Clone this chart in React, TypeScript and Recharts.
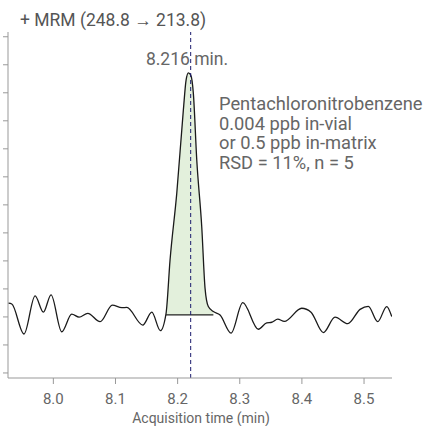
import { ComposedChart, Line, Area, XAxis, YAxis, ReferenceLine } from "recharts";

// retention time (min) and signal (arbitrary units)
const times = [
  7.9276, 7.9331, 7.9528, 7.9706, 7.9839, 7.9963, 8.0135, 8.0296, 8.0414, 8.0554,
  8.0752, 8.0949, 8.1101, 8.1181, 8.1439, 8.1584, 8.1722, 8.1814, 8.1878, 8.1986,
  8.2092, 8.2136, 8.2173, 8.2211, 8.2253, 8.2308, 8.2388, 8.2441, 8.2494, 8.2575,
  8.2683, 8.286, 8.3048, 8.3299, 8.3434, 8.3515, 8.3611, 8.3717, 8.3997, 8.4147,
  8.4345, 8.4533, 8.4738, 8.4936, 8.5069, 8.522, 8.5365, 8.5446,
];
const signal = [
  2.49, 2.46, 1.39, 2.75, 2.17, 2.79, 1.47, 2.1, 1.99, 2.13,
  1.83, 2.42, 2.33, 2.34, 1.71, 2.17, 1.51, 2.13, 4.03, 6.41,
  9.38, 10.45, 10.71, 10.63, 9.98, 7.6, 5.22, 3.03, 2.37, 2.19,
  2.07, 1.42, 2.51, 1.56, 1.79, 1.81, 1.92, 1.84, 2.31, 2.17,
  1.44, 1.99, 1.76, 2.27, 2.38, 1.83, 2.37, 2.01,
];
const xTicks = [8.0, 8.1, 8.2, 8.3, 8.4, 8.5];
const yTicks = [0, 1, 2, 3, 4, 5, 6, 7, 8, 9, 10, 11, 12];

const peakStart = 8.1814;
const peakEnd = 8.2575;
const peakBase = 2.07;
const markerTime = 8.221;

const noteLines = [
  "Pentachloronitrobenzene",
  "0.004 ppb in-vial",
  "or 0.5 ppb in-matrix",
  "RSD = 11%, n = 5",
];

const data = times.map((t, i) => ({
  t,
  signal: signal[i],
  peak: t >= peakStart && t <= peakEnd ? signal[i] : null,
}));

const textStyle: React.CSSProperties = {
  position: "absolute",
  fontFamily: "Roboto, sans-serif",
  color: "#666",
  whiteSpace: "nowrap",
};

export default function App() {
  return (
    <div style={{ position: "absolute", left: 0, top: 0, width: 431, height: 426 }}>
      <ComposedChart width={431} height={426} data={data} margin={{ top: 32, right: 39, bottom: 18, left: 0 }}>
        <XAxis
          type="number"
          dataKey="t"
          domain={[7.927, 8.545]}
          ticks={xTicks}
          tickFormatter={(v: number) => v.toFixed(1)}
          allowDataOverflow
          height={30}
          tickSize={6}
          tickMargin={9}
          stroke="#999"
          tick={{ fill: "#666", fontSize: 15, fontFamily: "Roboto" }}
        />
        <YAxis
          type="number"
          domain={[-0.18, 12.17]}
          ticks={yTicks}
          allowDataOverflow
          width={8}
          tickSize={5}
          tickFormatter={() => ""}
          stroke="#999"
        />
        <Area
          dataKey="peak"
          type="monotone"
          baseValue={peakBase}
          fill="#e3f0dc"
          fillOpacity={1}
          stroke="none"
          isAnimationActive={false}
        />
        <ReferenceLine
          segment={[
            { x: peakStart, y: peakBase },
            { x: peakEnd, y: peakBase },
          ]}
          stroke="#222"
          strokeWidth={1.2}
        />
        <Line
          dataKey="signal"
          type="monotone"
          stroke="#1a1a1a"
          strokeWidth={1.3}
          dot={false}
          isAnimationActive={false}
        />
        <ReferenceLine x={markerTime} stroke="#1c1c6e" strokeDasharray="4 3" strokeWidth={1} />
      </ComposedChart>
      <div style={{ ...textStyle, left: 20, top: 10, fontSize: 17.5, lineHeight: "20px", color: "#555" }}>
        + MRM (248.8 → 213.8)
      </div>
      <div style={{ ...textStyle, left: 187, top: 49, fontSize: 17.5, lineHeight: "20px", transform: "translateX(-50%)" }}>
        8.216 min.
      </div>
      {noteLines.map((line, i) => (
        <div key={line} style={{ ...textStyle, left: 219, top: 95 + i * 19.5, fontSize: 18.3, lineHeight: "18px" }}>
          {line}
        </div>
      ))}
      <div style={{ ...textStyle, left: 201, top: 409, fontSize: 14, lineHeight: "18px", transform: "translateX(-50%)" }}>
        Acquisition time (min)
      </div>
    </div>
  );
}
